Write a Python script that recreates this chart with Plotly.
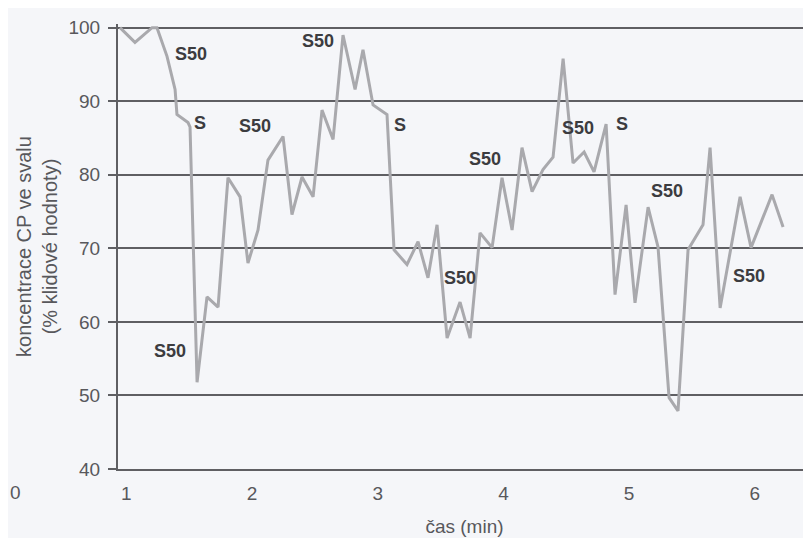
import plotly.graph_objects as go

# time (min) and CP concentration (% of resting value)
time_min = [0.950, 1.069, 1.205, 1.244, 1.324, 1.388, 1.403, 1.491, 1.507, 1.563,
            1.642, 1.730, 1.809, 1.905, 1.968, 2.048, 2.127, 2.247, 2.318, 2.398,
            2.486, 2.557, 2.645, 2.724, 2.820, 2.883, 2.963, 3.074, 3.130, 3.233,
            3.321, 3.400, 3.472, 3.552, 3.655, 3.735, 3.814, 3.910, 3.989, 4.069,
            4.148, 4.228, 4.315, 4.395, 4.475, 4.554, 4.642, 4.721, 4.817, 4.888,
            4.976, 5.047, 5.151, 5.230, 5.318, 5.389, 5.469, 5.588, 5.644, 5.724,
            5.883, 5.970, 6.137, 6.225]
cp_values = [100, 98.0, 100, 100, 96.1, 91.6, 88.2, 87.1, 86.5, 51.8,
             63.4, 62.0, 79.6, 77.0, 68.0, 72.5, 82.0, 85.2, 74.6, 79.7,
             77.0, 88.8, 84.8, 99.0, 91.6, 97.0, 89.5, 88.2, 69.8, 67.8,
             70.9, 66.0, 73.2, 57.8, 62.7, 57.8, 72.1, 70.1, 79.6, 72.5,
             83.7, 77.7, 80.7, 82.4, 95.8, 81.6, 83.1, 80.4, 86.9, 63.7,
             75.9, 62.6, 75.6, 70.2, 49.7, 47.9, 69.8, 73.2, 83.7, 61.9,
             77.0, 70.1, 77.3, 72.9]

label_text = ["S50", "S", "S50", "S50", "S50", "S", "S50", "S50", "S50", "S", "S50", "S50"]
label_t = [1.515, 1.587, 1.348, 2.024, 2.525, 3.178, 3.854, 3.655, 4.594, 4.944, 5.302, 5.954]
label_v = [96.2, 86.8, 55.9, 86.4, 98.0, 86.5, 81.9, 65.7, 86.1, 86.7, 77.6, 66.0]

x_ticks = [1, 2, 3, 4, 5, 6]
y_ticks = [40, 50, 60, 70, 80, 90, 100]

FONT = "Liberation Sans, Arial, sans-serif"
GRID = "#5f5f63"
TXT = "#58585c"

fig = go.Figure()
fig.add_trace(go.Scatter(
    x=time_min, y=cp_values, mode="lines",
    line=dict(color="#a9a9ad", width=3),
    showlegend=False, hoverinfo="x+y",
))
fig.add_trace(go.Scatter(
    x=label_t, y=label_v, mode="text", text=label_text,
    textfont=dict(family=FONT, size=18, color="#3c3c40", weight="bold"),
    showlegend=False, hoverinfo="skip", cliponaxis=False,
))

fig.add_annotation(text="0", xref="paper", yref="paper", x=-0.1486, y=-0.024,
                   showarrow=False, xanchor="center", yanchor="top",
                   font=dict(family=FONT, size=19, color=TXT))

fig.update_layout(
    width=803, height=530,
    margin=dict(l=110, r=0, t=16, b=69, autoexpand=False),
    paper_bgcolor="#f5f6f9", plot_bgcolor="rgba(0,0,0,0)",
    font=dict(family=FONT, size=19, color=TXT),
    xaxis=dict(
        range=[0.934, 6.447], tickvals=x_ticks, ticks="",
        showgrid=False, zeroline=False, showline=True,
        linecolor=GRID, linewidth=2, automargin=False,
        tickfont=dict(size=19, color=TXT),
        ticklabelstandoff=6,
        title=dict(text="čas (min)", font=dict(size=19, color=TXT), standoff=17),
    ),
    yaxis=dict(
        range=[40, 100.5], tickvals=y_ticks, ticks="outside", ticklen=8,
        tickwidth=2, tickcolor=GRID, automargin=False,
        showgrid=True, gridcolor=GRID, gridwidth=2, zeroline=False,
        showline=True, linecolor=GRID, linewidth=2,
        tickfont=dict(size=19, color=TXT),
        ticklabelstandoff=4,
        title=dict(text="koncentrace CP ve svalu<br>(% klidové hodnoty)",
                   font=dict(size=20, color=TXT), standoff=5),
    ),
)

fig.write_html("out.html")
